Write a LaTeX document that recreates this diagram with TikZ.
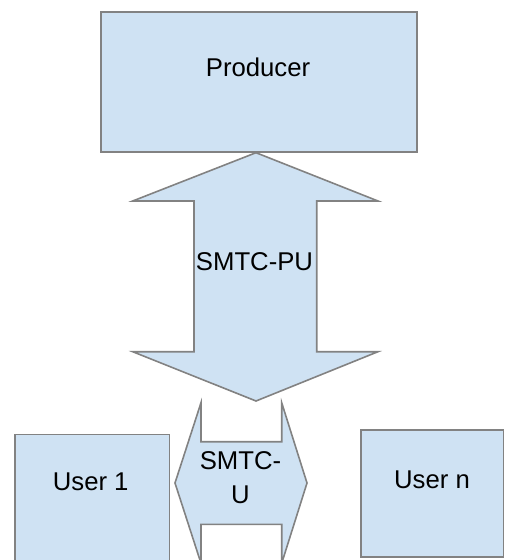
\documentclass[tikz,border=0pt]{standalone}
\usepackage{fontspec}
\setmainfont{Liberation Sans}
\usetikzlibrary{positioning, calc}
\definecolor{cFill}{RGB}{207,226,243}
\definecolor{cEdge}{RGB}{130,130,130}

\begin{document}
\begin{tikzpicture}[x=1pt, y=-1pt,
    box/.style={draw=cEdge, fill=cFill, line width=1.6pt, inner sep=0pt},
    block/.style={draw=cEdge, fill=cFill, line width=1.6pt, line join=miter},
    lbl/.style={font=\fontsize{25.7}{34.3}\selectfont, inner sep=0pt, align=center, anchor=base}]
    \useasboundingbox (0,0) rectangle (504,560);

    % Boxes
    \node[box, minimum width=316pt, minimum height=140.3pt] (prod) at (258.7,81.85) {};
    \node[box, minimum width=154.3pt, minimum height=140pt] (usrA) at (92.15,504.3) {};
    \node[box, minimum width=142.3pt, minimum height=126.7pt] (usrN) at (432.15,493.35) {};

    % Arrow ends
    \coordinate (puTop) at (256,152.7);
    \coordinate (puBot) at (256,401);
    \coordinate (uLeft) at (175,483);
    \coordinate (uRight) at (307,483);

    % SMTC-PU (producer <-> users)
    \draw[block] (puTop) -- (378,201) -- (316.7,201) -- (316.7,351.7) -- (378,351.7)
        -- (puBot) -- (132.7,351.7) -- (194,351.7) -- (194,201) -- (132.7,201) -- cycle;

    % SMTC-U (user <-> user)
    \draw[block] (uLeft) -- (201,402.7) -- (201,441.7) -- (281.7,441.7) -- (281.7,402.7)
        -- (uRight) -- (281.7,563.3) -- (281.7,524.3) -- (201,524.3) -- (201,563.3) -- cycle;

    % Labels
    \node[lbl] (tProd) at (258,76) {Producer};
    \node[lbl] (tUsrA) at (90.7,490.7) {User 1};
    \node[lbl] (tUsrN) at (432,488.3) {User n};
    \node[lbl] (tPU) at (254.5,270.7) {SMTC-PU};
    \node[lbl] (tU) at (240.5,503.3) {SMTC-\\U};
\end{tikzpicture}
\end{document}
